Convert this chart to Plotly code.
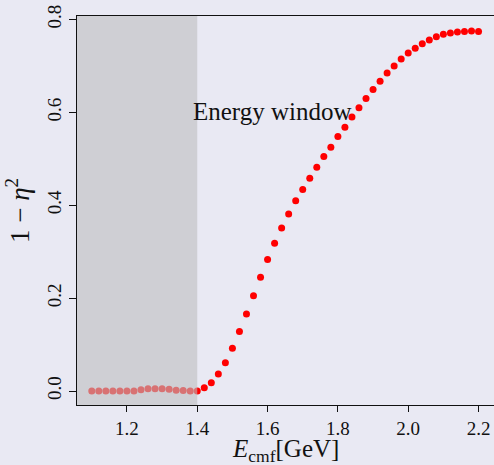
import plotly.graph_objects as go

energy = [1.10, 1.12, 1.14, 1.16, 1.18, 1.20, 1.22, 1.24, 1.26, 1.28, 1.30, 1.32, 1.34, 1.36, 1.38, 1.40,
          1.42, 1.44, 1.46, 1.48, 1.50, 1.52, 1.54, 1.56, 1.58, 1.60, 1.62, 1.64, 1.66, 1.68, 1.70,
          1.72, 1.74, 1.76, 1.78, 1.80, 1.82, 1.84, 1.86, 1.88, 1.90, 1.92, 1.94, 1.96, 1.98, 2.00,
          2.02, 2.04, 2.06, 2.08, 2.10, 2.12, 2.14, 2.16, 2.18, 2.20]
one_minus_eta2 = [0.0, 0.0, 0.0, 0.0, 0.0, 0.0, 0.0, 0.003, 0.005, 0.005, 0.005, 0.004, 0.002, 0.001, 0.0, 0.0,
                  0.007, 0.018, 0.037, 0.061, 0.092, 0.128, 0.166, 0.205, 0.245, 0.283, 0.318, 0.351, 0.381, 0.410, 0.434,
                  0.458, 0.482, 0.505, 0.525, 0.548, 0.568, 0.590, 0.610, 0.630, 0.649, 0.667, 0.685, 0.700, 0.715, 0.728,
                  0.738, 0.748, 0.756, 0.763, 0.768, 0.771, 0.773, 0.774, 0.775, 0.774]
x_ticks = [1.2, 1.4, 1.6, 1.8, 2.0, 2.2]
x_tick_labels = ["1.2", "1.4", "1.6", "1.8", "2.0", "2.2"]
y_ticks = [0.0, 0.2, 0.4, 0.6, 0.8]
y_tick_labels = ["0.0", "0.2", "0.4", "0.6", "0.8"]
window_low, window_high = 1.058, 1.40
annotation_text = "Energy window"
x_title = "<i>E</i><sub>cmf</sub>[GeV]"
y_title = "1 − <i>η</i><sup>2</sup>"

x_range = [1.058, 2.244]
y_range = [-0.030, 0.8075]
serif = "Liberation Serif, DejaVu Serif, serif"

fig = go.Figure()
fig.add_trace(go.Scatter(x=energy, y=one_minus_eta2, mode="markers",
                         marker=dict(color="#ff0000", size=7, line=dict(width=0)),
                         showlegend=False, cliponaxis=False))
fig.add_shape(type="rect", xref="x", yref="y", x0=window_low, x1=window_high,
              y0=y_range[0], y1=y_range[1], fillcolor="rgba(190,190,192,0.6)",
              line=dict(width=0), layer="above")
fig.add_annotation(x=1.40, y=0.602, xref="x", yref="y", text=annotation_text,
                   showarrow=False, xanchor="left", yanchor="middle", xshift=-6,
                   font=dict(family=serif, size=25, color="#111"))
fig.add_annotation(x=0.499, y=0, xref="paper", yref="paper", text=x_title,
                   showarrow=False, xanchor="center", yanchor="top", yshift=-28,
                   font=dict(family=serif, size=25, color="#111"))
fig.update_layout(
    width=494, height=465, margin=dict(l=77, r=0, t=16, b=60),
    paper_bgcolor="#e9e9f3", plot_bgcolor="#e9e9f3",
    font=dict(family=serif, size=19, color="#111"),
    xaxis=dict(range=x_range, tickvals=x_ticks, ticktext=x_tick_labels, showgrid=False, zeroline=False,
               showline=True, mirror=True, linecolor="#111", linewidth=1.3,
               ticks="outside", ticklen=6, tickcolor="#111"),
    yaxis=dict(range=y_range, tickvals=y_ticks, ticktext=y_tick_labels, showgrid=False, zeroline=False,
               showline=True, linecolor="#111", linewidth=1.3, tickangle=-90,
               ticks="outside", ticklen=7, tickcolor="#111",
               title=dict(text=y_title, font=dict(size=27), standoff=6)),
)
fig.write_html("out.html")
